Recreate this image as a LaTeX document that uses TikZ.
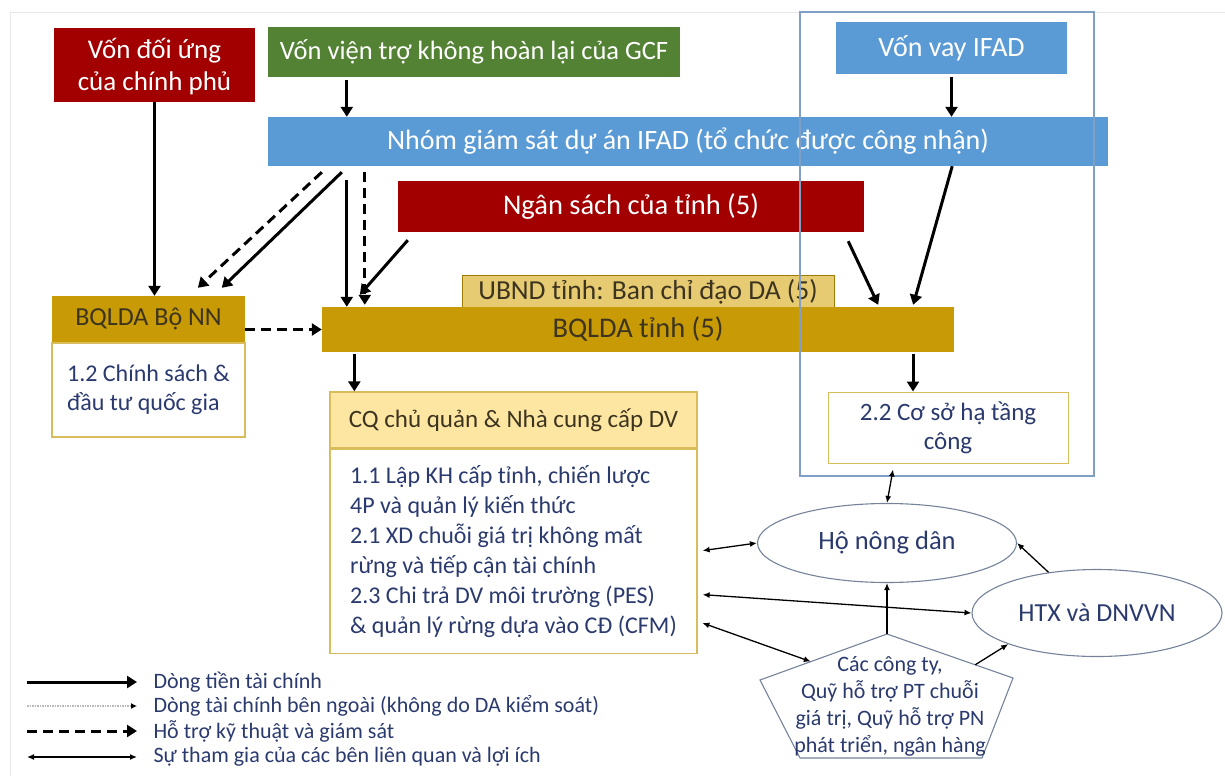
\documentclass[tikz,border=0pt]{standalone}
\usepackage{fontspec}
\setmainfont{Carlito}
\usetikzlibrary{arrows.meta,shapes.geometric,calc}

\definecolor{fundred}{HTML}{A20000}
\definecolor{fundgreen}{HTML}{548235}
\definecolor{fundblue}{HTML}{5B9BD5}
\definecolor{pmugold}{HTML}{C89A05}
\definecolor{ubndgold}{HTML}{E6CB72}
\definecolor{lightgold}{HTML}{FDE6A2}
\definecolor{edgegold}{HTML}{D9BC5C}
\definecolor{framblue}{HTML}{7F9FC6}
\definecolor{navytext}{HTML}{2B3A6E}
\definecolor{darktext}{HTML}{3D3420}
\definecolor{shapeline}{HTML}{75839A}

\newcommand\fsz[2]{\fontsize{#1}{#2}\selectfont}

\tikzset{
  fund/.style={rectangle, inner sep=0pt, text=white, align=center},
  pmu/.style={rectangle, inner sep=0pt, fill=pmugold, text=darktext},
  bodybox/.style={rectangle, draw=edgegold, line width=1.3pt, fill=white, text=navytext},
  money/.style={line width=3pt, -{Triangle[length=10pt,width=12pt]}},
  support/.style={money, dash pattern=on 10pt off 6pt},
  outside/.style={line width=1.2pt, gray!55, dash pattern=on 1.5pt off 1pt, -{Latex[length=6pt,width=6pt,black]}},
  share/.style={line width=1.3pt, {Latex[length=7pt,width=6pt]}-{Latex[length=7pt,width=6pt]}},
  toward/.style={line width=1.3pt, -{Latex[length=7pt,width=6pt]}},
  actor/.style={ellipse, draw=shapeline, line width=1.1pt, fill=white, text=navytext, inner sep=0pt},
  keytext/.style={anchor=west, text=navytext, font=\fsz{22}{25}},
}

\begin{document}
\begin{tikzpicture}[x=1pt, y=-1pt]
\useasboundingbox (0,0) rectangle (1225,776);
\draw[gray!18, line width=0.8pt] (1225,12) -- (10,12) -- (10,776);

% funding sources
\node[fund, fill=fundred, minimum width=201pt, minimum height=74pt, font=\fsz{27}{32}] (doiung) at (154.5,65) {\rule{0pt}{24pt}Vốn đối ứng\\của chính phủ};
\node[fund, fill=fundgreen, minimum width=412pt, minimum height=50pt, font=\fsz{26.5}{30}] (gcf) at (474,52) {Vốn viện trợ không hoàn lại của GCF};
\node[fund, fill=fundblue, minimum width=231pt, minimum height=52pt, font=\fsz{28}{30}] (vay) at (951.5,48) {Vốn vay IFAD};
\node[fund, fill=fundblue, minimum width=840pt, minimum height=49pt, font=\fsz{28}{30}] (nhom) at (688,141.5) {Nhóm giám sát dự án IFAD (tổ chức được công nhận)};
\node[fund, fill=fundred, minimum width=466pt, minimum height=51pt, font=\fsz{28.5}{30}] (ngansach) at (631,206.5) {Ngân sách của tỉnh (5)};

% project management
\node[pmu, fill=ubndgold, draw=pmugold!80!black, line width=0.8pt, minimum width=372pt, minimum height=40pt, anchor=north, text depth=11pt, font=\fsz{27.5}{30}] (ubnd) at (648,275) {UBND tỉnh: Ban chỉ đạo DA (5)};
\node[pmu, minimum width=632pt, minimum height=45pt, font=\fsz{28.5}{30}] (bqlda) at (638,329.5) {BQLDA tỉnh (5)};
\node[pmu, minimum width=193pt, minimum height=46pt, font=\fsz{26}{30}] (bonnh) at (148.5,319) {BQLDA Bộ NN};
\node[bodybox, anchor=north, minimum width=193pt, minimum height=94pt, inner sep=0pt, align=left, font=\fsz{24}{29}] (bonnb) at (bonnh.south) {1.2 Chính sách \&\\đầu tư quốc gia};

\node[bodybox, fill=lightgold, text=darktext, font=\fsz{25}{30}, minimum width=367pt, minimum height=56pt, inner sep=0pt] (cqh) at (513.5,420) {CQ chủ quản \& Nhà cung cấp DV};
\node[bodybox, anchor=north, minimum width=367pt, minimum height=204pt, inner sep=0pt, align=left, font=\fsz{24}{30}] (cqb) at (cqh.south) {1.1 Lập KH cấp tỉnh, chiến lược\\4P và quản lý kiến thức\\2.1 XD chuỗi giá trị không mất\\rừng và tiếp cận tài chính\\2.3 Chi trả DV môi trường (PES)\\\& quản lý rừng dựa vào CĐ (CFM)};

\node[bodybox, line width=1pt, minimum width=240pt, minimum height=71pt, inner sep=0pt, align=center, font=\fsz{25}{29}] (hatang) at (948,427.5) {2.2 Cơ sở hạ tầng\\công};

\draw[framblue, line width=1.3pt] (800,12) rectangle (1094,476);

% stakeholders
\node[actor, minimum width=259pt, minimum height=79pt, font=\fsz{26.5}{30}] (ho) at (887,543) {Hộ nông dân};
\node[actor, minimum width=250pt, minimum height=87pt, font=\fsz{26}{30}] (htx) at (1097,613) {HTX và DNVVN};
\draw[shapeline, line width=1.1pt, fill=white] (887,634) coordinate (pt) -- (1013,678) coordinate (pr)
  -- (982,758) -- (800,758) -- (760,680) coordinate (pl) -- cycle;
\node[text=navytext, font=\fsz{22}{27}, align=center] (cty) at (890,706) {Các công ty,\\Quỹ hỗ trợ PT chuỗi\\giá trị, Quỹ hỗ trợ PN\\phát triển, ngân hàng};
\coordinate (pin) at ($(pl)!0.4!(pt)$);
\coordinate (pout) at ($(pt)!0.7!(pr)$);

% money flows
\coordinate (g1) at ([xshift=79pt]gcf.south west);
\draw[money, shorten <=3pt] (g1) -- (g1 |- nhom.north);
\draw[money, shorten <=3pt] (vay.south) -- (vay.south |- nhom.north);
\draw[money] (doiung.south) -- (doiung.south |- bonnh.north);
\draw[support] ([xshift=54pt,yshift=-6pt]nhom.south west) -- ([xshift=146pt,yshift=8pt]bonnh.north west);
\draw[money] ([xshift=74pt,yshift=-6pt]nhom.south west) -- ([xshift=170pt,yshift=8pt]bonnh.north west);
\draw[money] ([xshift=79pt,yshift=-14pt]nhom.south west) -- ([xshift=25pt]bqlda.north west);
\draw[support] ([xshift=97pt,yshift=-6pt]nhom.south west) -- ([xshift=43pt,yshift=2pt]bqlda.north west);
\draw[money] ([xshift=10pt,yshift=-8pt]ngansach.south west) -- ([xshift=38pt,yshift=12pt]bqlda.north west);
\draw[money] ([xshift=-16pt,yshift=-9pt]ngansach.south east) -- ([xshift=-76pt,yshift=2pt]bqlda.north east);
\draw[money] ([xshift=-156pt]nhom.south east) -- ([xshift=-41pt,yshift=2pt]bqlda.north east);
\draw[support] (bqlda.west -| bonnh.east) -- (bqlda.west);
\coordinate (c1) at ([xshift=25pt]cqh.north west);
\draw[money, shorten <=2pt] (c1 |- bqlda.south) -- (c1);
\coordinate (h1) at ([xshift=-35pt]hatang.north);
\draw[money, shorten <=2pt] (h1 |- bqlda.south) -- (h1);

% participation
\draw[share] ([xshift=-55pt,yshift=-6pt]hatang.south) -- (ho.north);
\draw[share, shorten <=5pt] ([yshift=0pt]cqb.east) -- (ho.west);
\draw[share, shorten <=5pt] ([yshift=-43pt]cqb.east) -- (htx.west);
\draw[share, shorten <=5pt] ([yshift=-70pt]cqb.east) -- (pin);
\draw[toward] (pt) -- (ho.south);
\draw[toward] (pout) -- (htx.south west);
\draw[toward] (htx.140) -- (ho.east);

% legend
\draw[money] (27,682) coordinate (k1) -- (137,682) coordinate (k1e);
\draw[outside] (27,706) coordinate (k2) -- (137,706) coordinate (k2e);
\draw[support] (27,731) coordinate (k3) -- (137,731) coordinate (k3e);
\draw[share] (27,757) coordinate (k4) -- (137,757) coordinate (k4e);
\node[keytext] (t1) at (150,682) {Dòng tiền tài chính};
\node[keytext] (t2) at (150,706) {Dòng tài chính bên ngoài (không do DA kiểm soát)};
\node[keytext] (t3) at (150,731) {Hỗ trợ kỹ thuật và giám sát};
\node[keytext] (t4) at (150,757) {Sự tham gia của các bên liên quan và lợi ích};
\end{tikzpicture}
\end{document}
